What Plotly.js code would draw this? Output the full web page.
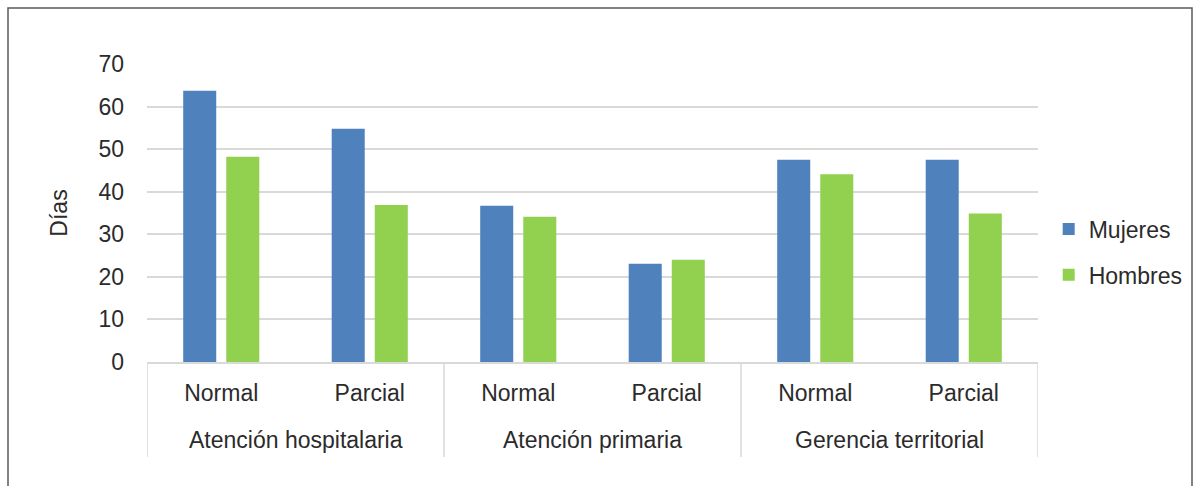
<!DOCTYPE html>
<html><head><meta charset="utf-8">
<script src="https://cdn.plot.ly/plotly-3.0.1.min.js"></script>
<style>html,body{margin:0;padding:0;background:#fff}#c{width:1200px;height:486px}</style>
</head><body><div id="c"></div>
<script>
const groups = ["Atención hospitalaria","Atención hospitalaria","Atención primaria","Atención primaria","Gerencia territorial","Gerencia territorial"];
const subcats = ["Normal","Parcial","Normal","Parcial","Normal","Parcial"];
const mujeres = [63.7, 54.8, 36.7, 23.1, 47.5, 47.5];
const hombres = [48.2, 36.9, 34.1, 24.0, 44.1, 34.9];
const yTicks = [0,10,20,30,40,50,60,70];

const idx = subcats.map((_, i) => i);
const uniqGroups = [...new Set(groups)];
const groupCenters = uniqGroups.map(g => { const ii = idx.filter(i => groups[i] === g); return (ii[0] + ii[ii.length-1]) / 2; });
const boundaries = [-0.5];
uniqGroups.forEach(g => { const ii = idx.filter(i => groups[i] === g); boundaries.push(ii[ii.length-1] + 0.5); });

const font = {family: "Liberation Sans, Arial, sans-serif", size: 23, color: "#2b2b2b"};
const traces = [
  {type:"bar", name:"Mujeres", legendgroup:"m", x:idx, y:mujeres, marker:{color:"#4F81BD"}},
  {type:"bar", name:"Hombres", legendgroup:"h", x:idx, y:hombres, marker:{color:"#92D050"}}
];
const divBottom = -(457-362)/298;
const shapes = boundaries.map(b => ({type:"line", xref:"x", yref:"paper", x0:b, x1:b, y0:0, y1:divBottom, line:{color:"#d9d9d9", width:1.5}}));
shapes.push({type:"rect", xref:"paper", yref:"paper", x0:(8-147)/891, x1:(1192-147)/891, y0:-0.45, y1:(362-8)/298,
    line:{color:"#595959", width:1.5}, fillcolor:"rgba(0,0,0,0)"});
const annotations = uniqGroups.map((g, k) => ({text:g, x:groupCenters[k], xref:"x", y:-(440-362)/298, yref:"paper",
    yanchor:"middle", xanchor:"center", showarrow:false, font:font}));

const layout = {
  width:1200, height:486,
  margin:{l:147, r:162, t:64, b:124},
  paper_bgcolor:"#fff", plot_bgcolor:"#fff",
  font: font,
  barmode:"group", bargap:0.42, bargroupgap:0.233,
  showlegend:true,
  legend:{x:1.012, y:(362-252)/298, xanchor:"left", yanchor:"middle", font:font, traceorder:"grouped", tracegroupgap:13},
  xaxis:{range:[-0.5, 5.5], tickvals:idx, ticktext:subcats, showline:true, linecolor:"#d9d9d9", linewidth:1.5,
    tickfont:font, showgrid:false, zeroline:false, ticks:"", ticklabelstandoff:10},
  yaxis:{range:[0,70], tickvals:yTicks, ticktext:yTicks.map(String), showgrid:true, gridcolor:"#d9d9d9", gridwidth:2,
    zeroline:false, showline:false, tickfont:font, ticklabelstandoff:22,
    title:{text:"Días", font:font, standoff:24}},
  shapes: shapes,
  annotations: annotations
};
Plotly.newPlot("c", traces, layout, {displayModeBar:false, staticPlot:true});
</script></body></html>
